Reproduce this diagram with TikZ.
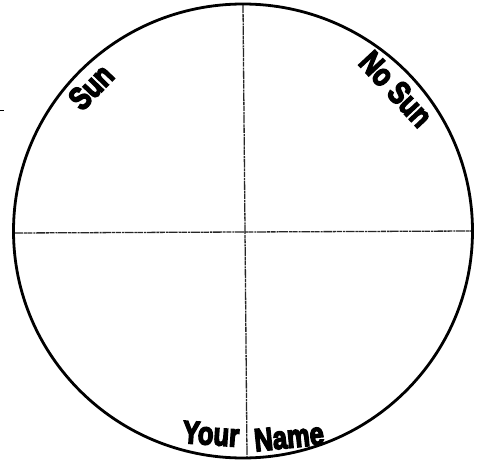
\documentclass[tikz,border=0pt]{standalone}
\usepackage{fontspec}
\setmainfont{Liberation Sans}
\newfontfamily\heavyfont{Liberation Sans}[UprightFont=*-Bold,UprightFeatures={FakeBold=5}]
\begin{document}
\begin{tikzpicture}[x=1pt,y=-1pt,
  rim/.style={line width=2.8pt,black},
  crossline/.style={line width=1.3pt,black!85,dash pattern=on 9pt off 0.8pt on 3pt off 0.6pt on 5pt off 1pt on 2pt off 0.7pt},
  lbl/.style={font=\fontsize{32}{32}\selectfont\heavyfont,inner sep=0pt}]
\useasboundingbox (0,0) rectangle (478,462);
\fill[white] (0,0) rectangle (478,462);
\coordinate (c) at (243,231);
\coordinate (top) at (243,4);
\coordinate (bot) at (247,457);
\coordinate (lft) at (14,233);
\coordinate (rgt) at (472,231);
\coordinate (tk1) at (0,111);
\coordinate (tk2) at (4,111);
\draw[crossline] (top) -- (bot);
\draw[crossline] (lft) -- (rgt);
\draw[rim] (c) ellipse [x radius=229.5, y radius=227];
\draw[line width=1pt] (tk1) -- (tk2);
\node[lbl,rotate=46] (sun) at (91,87) {\scalebox{0.8}[1]{Sun}};
\node[lbl,rotate=-47] (nosun) at (396,89) {\scalebox{0.8}[1]{No Sun}};
\node[lbl,rotate=-4] (your) at (211,434) {\scalebox{0.8}[1]{Your}};
\node[lbl,rotate=6] (name) at (289,437) {\scalebox{0.8}[1]{Name}};
\end{tikzpicture}
\end{document}
